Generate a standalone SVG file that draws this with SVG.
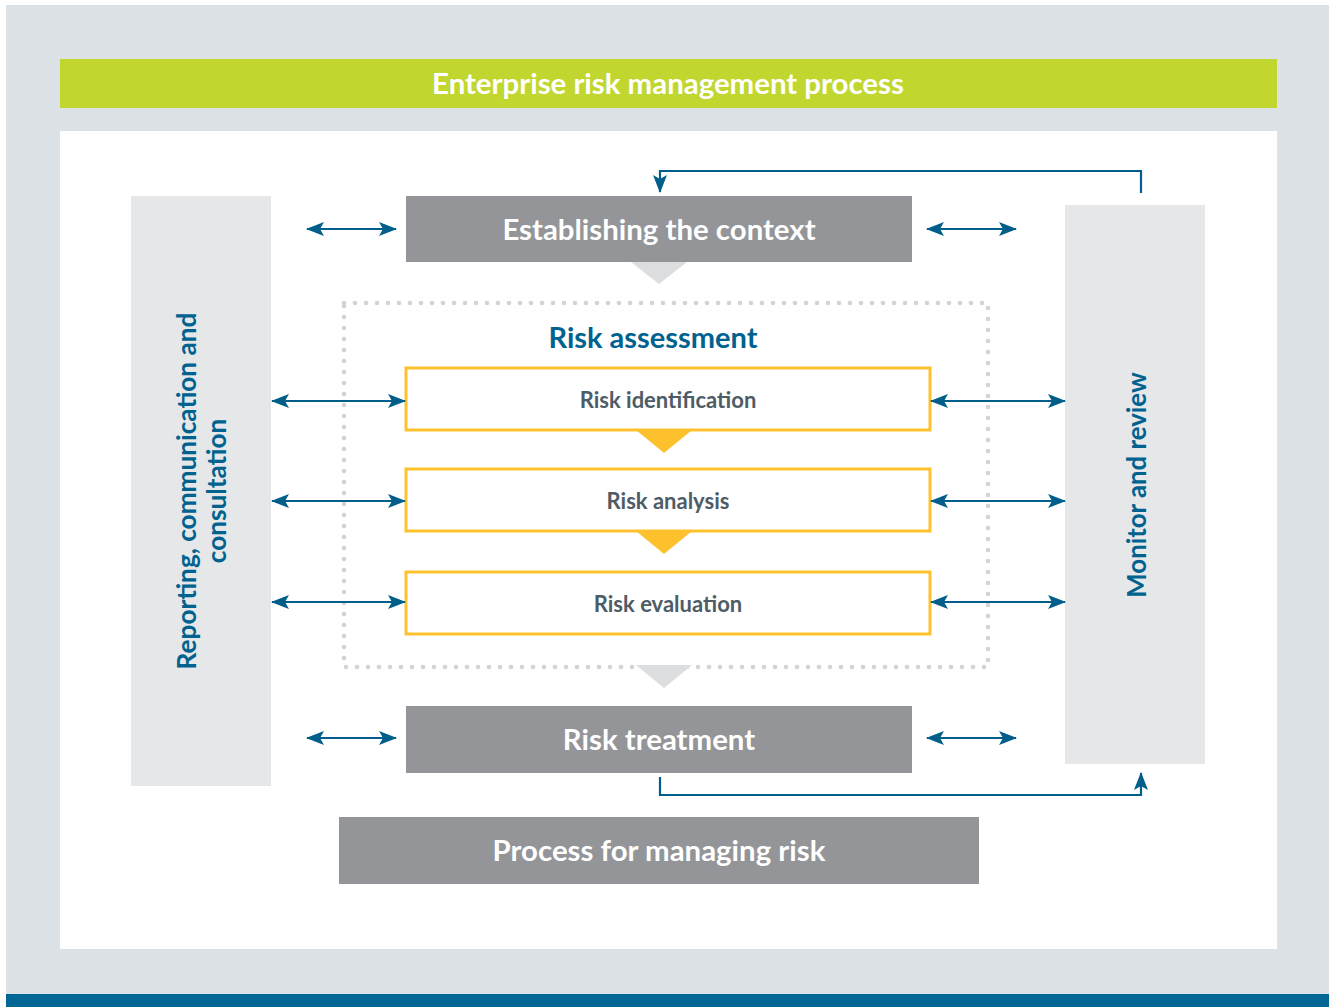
<svg xmlns="http://www.w3.org/2000/svg" width="1331" height="1007" viewBox="0 0 1331 1007">
<style>
.t{font-family:Lato,"Open Sans","Liberation Sans",sans-serif;font-weight:bold;text-anchor:middle}
.w{fill:#fff;font-size:29.4px}
.b{fill:#00628f}
.g{fill:#4e5c65;font-size:22px}
.box{fill:#939598}
.yb{fill:#fff;stroke:#fdc12e;stroke-width:3}
.side{fill:#e6e7e8}
.ar{stroke:#005e8a;stroke-width:2.2;fill:none}
.dot{stroke:#d1d3d4;stroke-width:4.6;stroke-linecap:round;stroke-dasharray:0 11;fill:none}
</style>
<defs>
<marker id="ah" markerUnits="userSpaceOnUse" viewBox="0 0 18 14" refX="17" refY="7" markerWidth="18" markerHeight="14" orient="auto-start-reverse">
<path d="M0,0 L18,7 L0,14 L4,7 z" fill="#005e8a"/>
</marker>
</defs>
<rect x="0" y="0" width="1331" height="1007" fill="#fff"/>
<rect x="6" y="5" width="1323" height="990" fill="#dde2e6"/>
<rect x="6" y="994" width="1323" height="13" fill="#006695"/>
<g id="title">
<rect x="60" y="59" width="1217" height="49" fill="#c1d72f"/>
<text class="t w" x="668" y="94">Enterprise risk management process</text>
</g>
<rect x="60" y="131" width="1217" height="818" fill="#fff"/>
<g id="reporting">
<rect class="side" x="131" y="196" width="140" height="590"/>
<text class="t b" font-size="26.2" transform="translate(196,491) rotate(-90)"><tspan x="0" y="0">Reporting, communication and</tspan><tspan x="0" y="30">consultation</tspan></text>
</g>
<g id="monitor">
<rect class="side" x="1065" y="205" width="140" height="559"/>
<text class="t b" font-size="25.8" transform="translate(1146,485) rotate(-90)" x="0" y="0">Monitor and review</text>
</g>
<g id="assessment">
<path class="dot" d="M344,303 H988 V667 H344 Z"/>
<text class="t b" font-size="29" x="653" y="348">Risk assessment</text>
</g>
<g id="context">
<rect class="box" x="406" y="196" width="506" height="66"/>
<text class="t w" x="659" y="240">Establishing the context</text>
<path d="M631,262 L687,262 L659,284 Z" fill="#dcddde"/>
</g>
<g id="identification">
<rect class="yb" x="406" y="368" width="524" height="62"/>
<text class="t g" x="668" y="408">Risk identification</text>
<path d="M636,430 L692,430 L664,453 Z" fill="#fdc12e"/>
</g>
<g id="analysis">
<rect class="yb" x="406" y="469" width="524" height="62"/>
<text class="t g" x="668" y="509">Risk analysis</text>
<path d="M636,531 L692,531 L664,554 Z" fill="#fdc12e"/>
</g>
<g id="evaluation">
<rect class="yb" x="406" y="572" width="524" height="62"/>
<text class="t g" x="668" y="612">Risk evaluation</text>
</g>
<path d="M636,665 L692,665 L664,688 Z" fill="#dcddde"/>
<g id="treatment">
<rect class="box" x="406" y="706" width="506" height="67"/>
<text class="t w" x="659" y="750">Risk treatment</text>
</g>
<g id="process">
<rect class="box" x="339" y="817" width="640" height="67"/>
<text class="t w" x="659" y="861">Process for managing risk</text>
</g>
<g id="connectors">
<line class="ar" x1="307" y1="229" x2="396" y2="229" marker-start="url(#ah)" marker-end="url(#ah)"/>
<line class="ar" x1="927" y1="229" x2="1016" y2="229" marker-start="url(#ah)" marker-end="url(#ah)"/>
<line class="ar" x1="307" y1="738" x2="396" y2="738" marker-start="url(#ah)" marker-end="url(#ah)"/>
<line class="ar" x1="927" y1="738" x2="1016" y2="738" marker-start="url(#ah)" marker-end="url(#ah)"/>
<line class="ar" x1="272" y1="401" x2="405" y2="401" marker-start="url(#ah)" marker-end="url(#ah)"/>
<line class="ar" x1="272" y1="501" x2="405" y2="501" marker-start="url(#ah)" marker-end="url(#ah)"/>
<line class="ar" x1="272" y1="602" x2="405" y2="602" marker-start="url(#ah)" marker-end="url(#ah)"/>
<line class="ar" x1="931" y1="401" x2="1065" y2="401" marker-start="url(#ah)" marker-end="url(#ah)"/>
<line class="ar" x1="931" y1="501" x2="1065" y2="501" marker-start="url(#ah)" marker-end="url(#ah)"/>
<line class="ar" x1="931" y1="602" x2="1065" y2="602" marker-start="url(#ah)" marker-end="url(#ah)"/>
<path class="ar" d="M1141,193 V171 H660 V192" marker-end="url(#ah)"/>
<path class="ar" d="M660,777 V795 H1141 V773" marker-end="url(#ah)"/>
</g>
</svg>
